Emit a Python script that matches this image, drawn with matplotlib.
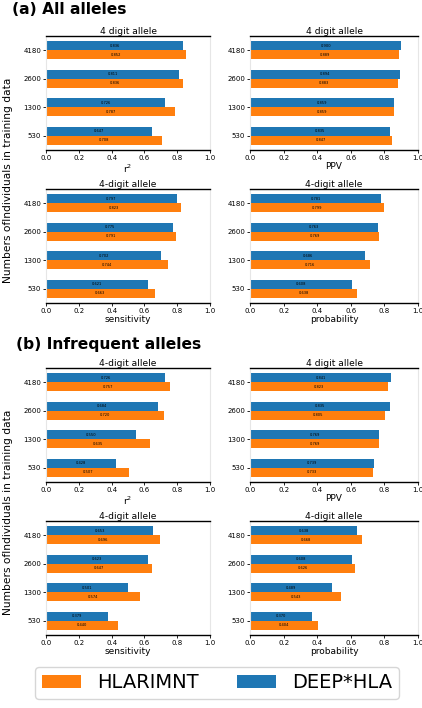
import matplotlib
matplotlib.use("Agg")
import matplotlib.pyplot as plt
from matplotlib.patches import Patch
import numpy as np

sizes = ["4180", "2600", "1300", "530"]
metrics = ["r$^2$", "PPV", "sensitivity", "probability"]
titles_a = ["4 digit allele", "4 digit allele", "4-digit allele", "4-digit allele"]
titles_b = ["4-digit allele", "4 digit allele", "4-digit allele", "4-digit allele"]

# (a) All alleles
a_deep = {
    "r2": [0.836, 0.811, 0.726, 0.647],
    "ppv": [0.900, 0.894, 0.859, 0.835],
    "sens": [0.797, 0.775, 0.702, 0.621],
    "prob": [0.781, 0.763, 0.686, 0.608],
}
a_hlar = {
    "r2": [0.852, 0.836, 0.787, 0.708],
    "ppv": [0.889, 0.883, 0.859, 0.847],
    "sens": [0.823, 0.791, 0.744, 0.663],
    "prob": [0.799, 0.769, 0.716, 0.638],
}
# (b) Infrequent alleles
b_deep = {
    "r2": [0.726, 0.684, 0.550, 0.428],
    "ppv": [0.841, 0.835, 0.769, 0.739],
    "sens": [0.653, 0.623, 0.501, 0.379],
    "prob": [0.638, 0.608, 0.489, 0.370],
}
b_hlar = {
    "r2": [0.757, 0.720, 0.635, 0.507],
    "ppv": [0.823, 0.805, 0.769, 0.733],
    "sens": [0.696, 0.647, 0.574, 0.440],
    "prob": [0.668, 0.626, 0.543, 0.404],
}
keys = ["r2", "ppv", "sens", "prob"]

BLUE = "#1f77b4"
ORANGE = "#ff7f0e"

W, H = 422, 708
fig = plt.figure(figsize=(W / 100, H / 100), dpi=100)


def ax_at(x0, y0, x1, y1):
    return fig.add_axes([x0 / W, 1 - y1 / H, (x1 - x0) / W, (y1 - y0) / H])


def draw(ax, deep, hlar, title, xlabel):
    y = np.arange(len(sizes))
    h = 0.32
    ax.barh(y - h / 2, deep, height=h, color=BLUE)
    ax.barh(y + h / 2, hlar, height=h, color=ORANGE)
    for yi, v in zip(y, deep):
        ax.text(v / 2, yi - h / 2, f"{v:.3f}", ha="center", va="center", fontsize=2.6, color="black")
    for yi, v in zip(y, hlar):
        ax.text(v / 2, yi + h / 2, f"{v:.3f}", ha="center", va="center", fontsize=2.6, color="black")
    ax.set_ylim(len(sizes) - 0.5, -0.5)
    ax.set_xlim(0, 1)
    ax.set_yticks(y)
    ax.set_yticklabels(sizes)
    ax.set_xticks([0, 0.2, 0.4, 0.6, 0.8, 1.0])
    ax.set_xticklabels(["0.0", "0.2", "0.4", "0.6", "0.8", "1.0"])
    ax.tick_params(axis="both", labelsize=5, length=2, width=0.6, pad=1.5)
    ax.set_title(title, fontsize=6.6, pad=1.5)
    ax.set_xlabel(xlabel, fontsize=6.5, labelpad=1)
    for s in ["left", "right"]:
        ax.spines[s].set_color("#e6e6e6")
        ax.spines[s].set_linewidth(0.8)
    for s in ["top", "bottom"]:
        ax.spines[s].set_color("black")
        ax.spines[s].set_linewidth(1.0)


cols = [(46, 210), (250, 418)]
rows_a = [(36, 150), (189, 303)]
rows_b = [(368, 482), (521, 635)]

for panel_rows, deep, hlar, titles in [(rows_a, a_deep, a_hlar, titles_a), (rows_b, b_deep, b_hlar, titles_b)]:
    i = 0
    for (y0, y1) in panel_rows:
        for (x0, x1) in cols:
            ax = ax_at(x0, y0, x1, y1)
            k = keys[i]
            draw(ax, deep[k], hlar[k], titles[i], metrics[i])
            i += 1

fig.text(12 / W, 1 - 10 / H, "(a) All alleles", fontsize=11.2, fontweight="bold", ha="left", va="center")
fig.text(16 / W, 1 - 345 / H, "(b) Infrequent alleles", fontsize=11.2, fontweight="bold", ha="left", va="center")

ylab = "Numbers ofIndividuals in training data"
fig.text(8 / W, 1 - 180 / H, ylab, rotation=90, fontsize=7.7, ha="center", va="center")
fig.text(8 / W, 1 - 512 / H, ylab, rotation=90, fontsize=7.7, ha="center", va="center")

handles = [Patch(facecolor=ORANGE), Patch(facecolor=BLUE)]
leg = fig.legend(handles, ["HLARIMNT", "DEEP*HLA"], loc="center",
                 bbox_to_anchor=(217 / W, 1 - 683 / H), ncol=2, fontsize=14,
                 handlelength=2.0, handleheight=0.67, columnspacing=2.0,
                 handletextpad=0.8, frameon=True, fancybox=True,
                 borderpad=0.35, borderaxespad=0)
leg.get_frame().set_edgecolor("#cccccc")
leg.get_frame().set_linewidth(1.0)

fig.savefig("out.png", dpi=100)
